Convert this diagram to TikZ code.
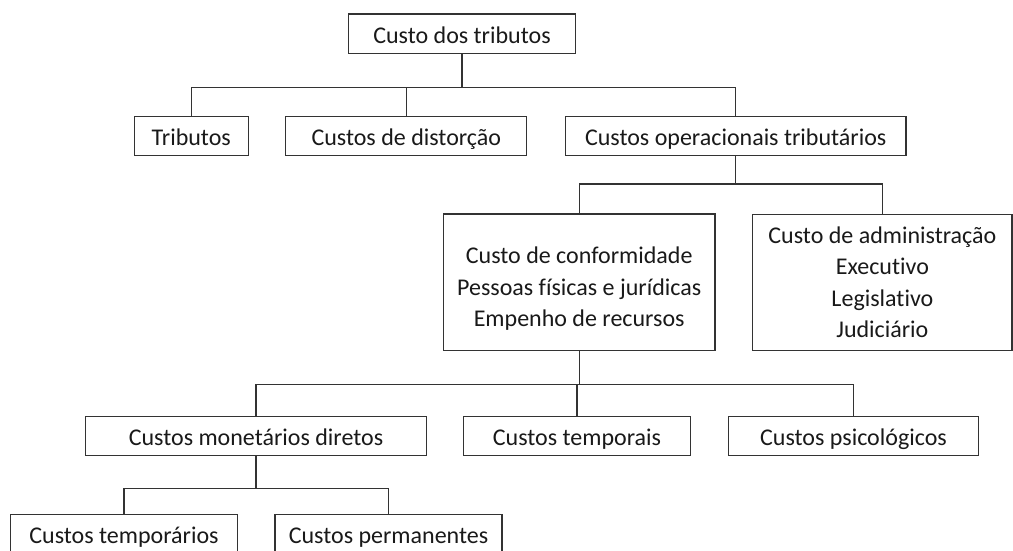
\documentclass[tikz,border=0pt]{standalone}
\usepackage{fontspec}
\setmainfont{Carlito}[Ligatures={NoCommon}]
\begin{document}
\begin{tikzpicture}[x=1pt,y=-1pt,
  box/.style={draw=black!80, line width=1.2pt, rectangle, inner sep=0pt, align=center,
    font=\fontsize{24}{31.5}\selectfont, text=black!90, minimum height=39.6pt},
  one/.style={box, text height=19.2pt, text depth=0pt},
  link/.style={draw=black!80, line width=1.2pt}]
\useasboundingbox (0,0) rectangle (1013,550);
\clip (0,0) rectangle (1013,550);
% nodes
\node[one, minimum width=227.4pt] (top) at (462,33.7) {Custo dos tributos};
\node[one, minimum width=114pt] (trib) at (191.3,135.9) {Tributos};
\node[one, minimum width=241pt] (dist) at (406.3,135.9) {Custos de distorção};
\node[one, minimum width=340.7pt] (oper) at (735.7,135.9) {Custos operacionais tributários};
\node[box, minimum width=271.7pt, minimum height=136.5pt] (conf) at (579.2,282.3)
  {\rule{0pt}{30pt}Custo de conformidade\\Pessoas físicas e jurídicas\\Empenho de recursos};
\node[box, minimum width=259.3pt, minimum height=136pt] (adm) at (882.4,282.2)
  {Custo de administração\\Executivo\\Legislativo\\Judiciário};
\node[one, minimum width=340.6pt] (mon) at (256,435.9) {Custos monetários diretos};
\node[one, minimum width=227.4pt] (temp) at (577,435.9) {Custos temporais};
\node[one, minimum width=249.6pt] (psi) at (853.5,435.9) {Custos psicológicos};
\node[one, minimum width=226.6pt] (tmpr) at (124,534.1) {Custos temporários};
\node[one, minimum width=227pt] (perm) at (388.5,534.1) {Custos permanentes};
% bus levels
\coordinate (b1) at (0,87.3);
\coordinate (b2) at (0,184);
\coordinate (b3) at (0,384.3);
\coordinate (b4) at (0,488.3);
% connectors
\draw[link] (top.south) -- (top.south |- b1);
\draw[link] (trib.north) -- (trib.north |- b1) -- (oper.north |- b1) -- (oper.north);
\draw[link] (dist.north) -- (dist.north |- b1);
\draw[link] (oper.south) -- (oper.south |- b2);
\draw[link] (conf.north) -- (conf.north |- b2) -- (adm.north |- b2) -- (adm.north);
\draw[link] (conf.south) -- (conf.south |- b3);
\draw[link] (mon.north) -- (mon.north |- b3) -- (psi.north |- b3) -- (psi.north);
\draw[link] (temp.north) -- (temp.north |- b3);
\draw[link] (mon.south) -- (mon.south |- b4);
\draw[link] (tmpr.north) -- (tmpr.north |- b4) -- (perm.north |- b4) -- (perm.north);
\end{tikzpicture}
\end{document}
